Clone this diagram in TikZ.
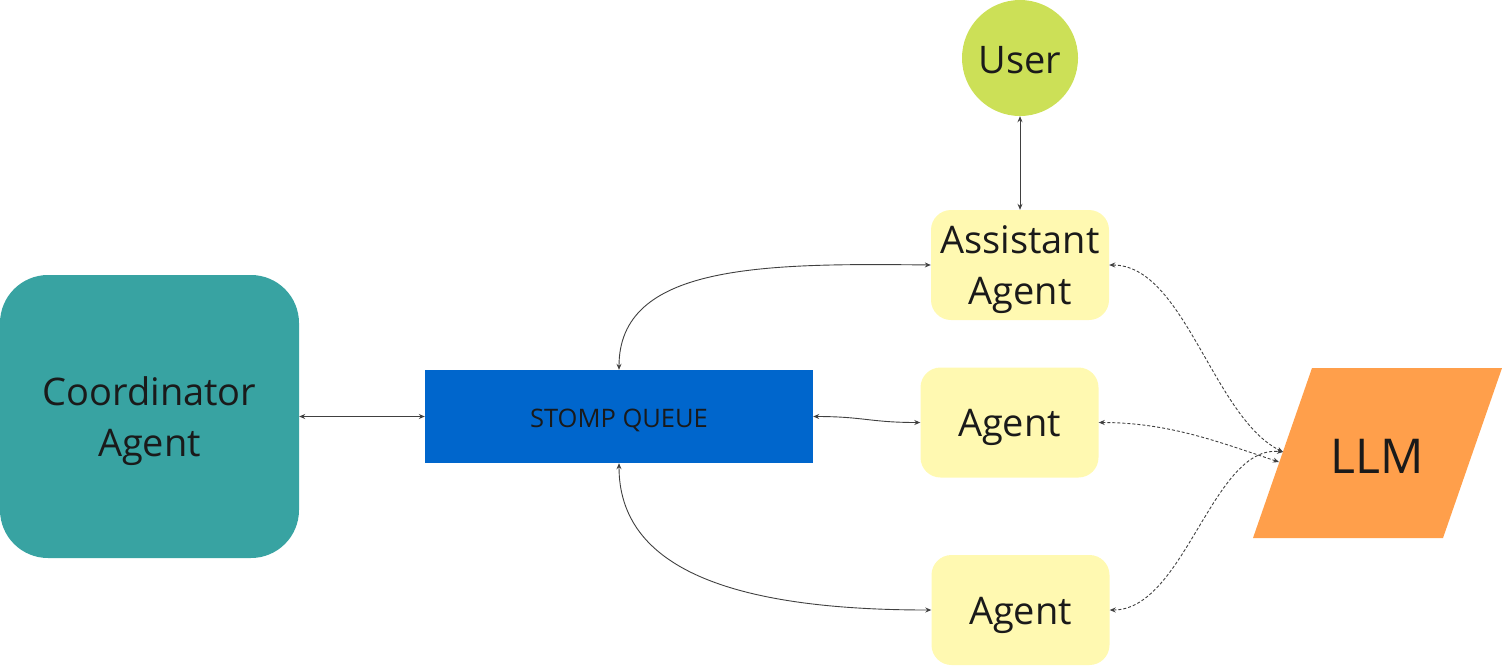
\documentclass[tikz,border=0pt]{standalone}
\usepackage{fontspec}
\setmainfont{Open Sans}
\usetikzlibrary{arrows.meta}
\definecolor{teal1}{HTML}{38A3A2}
\definecolor{queue}{HTML}{0066CC}
\definecolor{pale}{HTML}{FFF9B1}
\definecolor{lime}{HTML}{CCE057}
\definecolor{orng}{HTML}{FF9F4B}
\definecolor{ink}{HTML}{1A1A1A}
\definecolor{wire}{HTML}{404040}
\tikzset{
  x=1pt, y=-1pt,
  box/.style={rectangle, inner sep=0pt},
  txt/.style={align=center, text=ink, inner sep=0pt, yshift=-5pt, font=\fontsize{38}{51}\selectfont},
  agentbox/.style={box, fill=pale, rounded corners=20pt, minimum width=178pt, minimum height=110pt},
  link/.style={draw=wire, line width=0.9pt, {Stealth[length=6pt,width=5pt]}-{Stealth[length=6pt,width=5pt]}},
  dlink/.style={link, dash pattern=on 3pt off 2pt}
}
\begin{document}
\begin{tikzpicture}
\useasboundingbox (0,0) rectangle (1502,665);
% nodes
\node[box, fill=teal1, rounded corners=48pt, minimum width=299pt, minimum height=283pt,
  label={[txt]center:Coordinator\\Agent}] (coord) at (149.5,416.5) {};
\node[box, fill=queue, minimum width=388pt, minimum height=93pt,
  label={[txt, yshift=1pt, font=\fontsize{25.5}{30}\selectfont]center:STOMP QUEUE}] (queue) at (619,416.5) {};
\node[agentbox, label={[txt]center:Assistant\\Agent}] (asst) at (1020,265) {};
\node[agentbox, label={[txt]center:Agent}] (agm) at (1009.5,422.5) {};
\node[agentbox, label={[txt]center:Agent}] (agb) at (1020.5,610) {};
\node[circle, fill=lime, inner sep=0pt, minimum size=116pt, label={[txt, yshift=3pt]center:User}] (user) at (1020,58) {};
% LLM parallelogram
\fill[orng] (1312,368) -- (1502,368) -- (1443,538) -- (1253,538) -- cycle;
\node[txt, yshift=4pt, font=\fontsize{48}{56}\selectfont] (llm) at (1377,455) {LLM};
\coordinate (llmA) at (1283,452);
\coordinate (llmB) at (1279,462);
% connectors
\draw[link] (coord.east) -- (queue.west);
\draw[link] (user.south) -- (asst.north);
\draw[link] (queue.north) .. controls +(0,-105) and +(-170,-2) .. (asst.west);
\draw[link] (queue.south) .. controls +(0,105) and +(-200,0) .. (agb.west);
\draw[link] (queue.east) .. controls +(50,0) and +(-50,0) .. (agm.west);
\draw[dlink] (asst.east) .. controls +(75,0) and +(-70,-35) .. (llmA);
\draw[dlink] (agm.east) .. controls +(70,0) and +(-60,-20) .. (llmB);
\draw[dlink] (agb.east) .. controls +(75,0) and +(-70,-8) .. (llmA);
\end{tikzpicture}
\end{document}
